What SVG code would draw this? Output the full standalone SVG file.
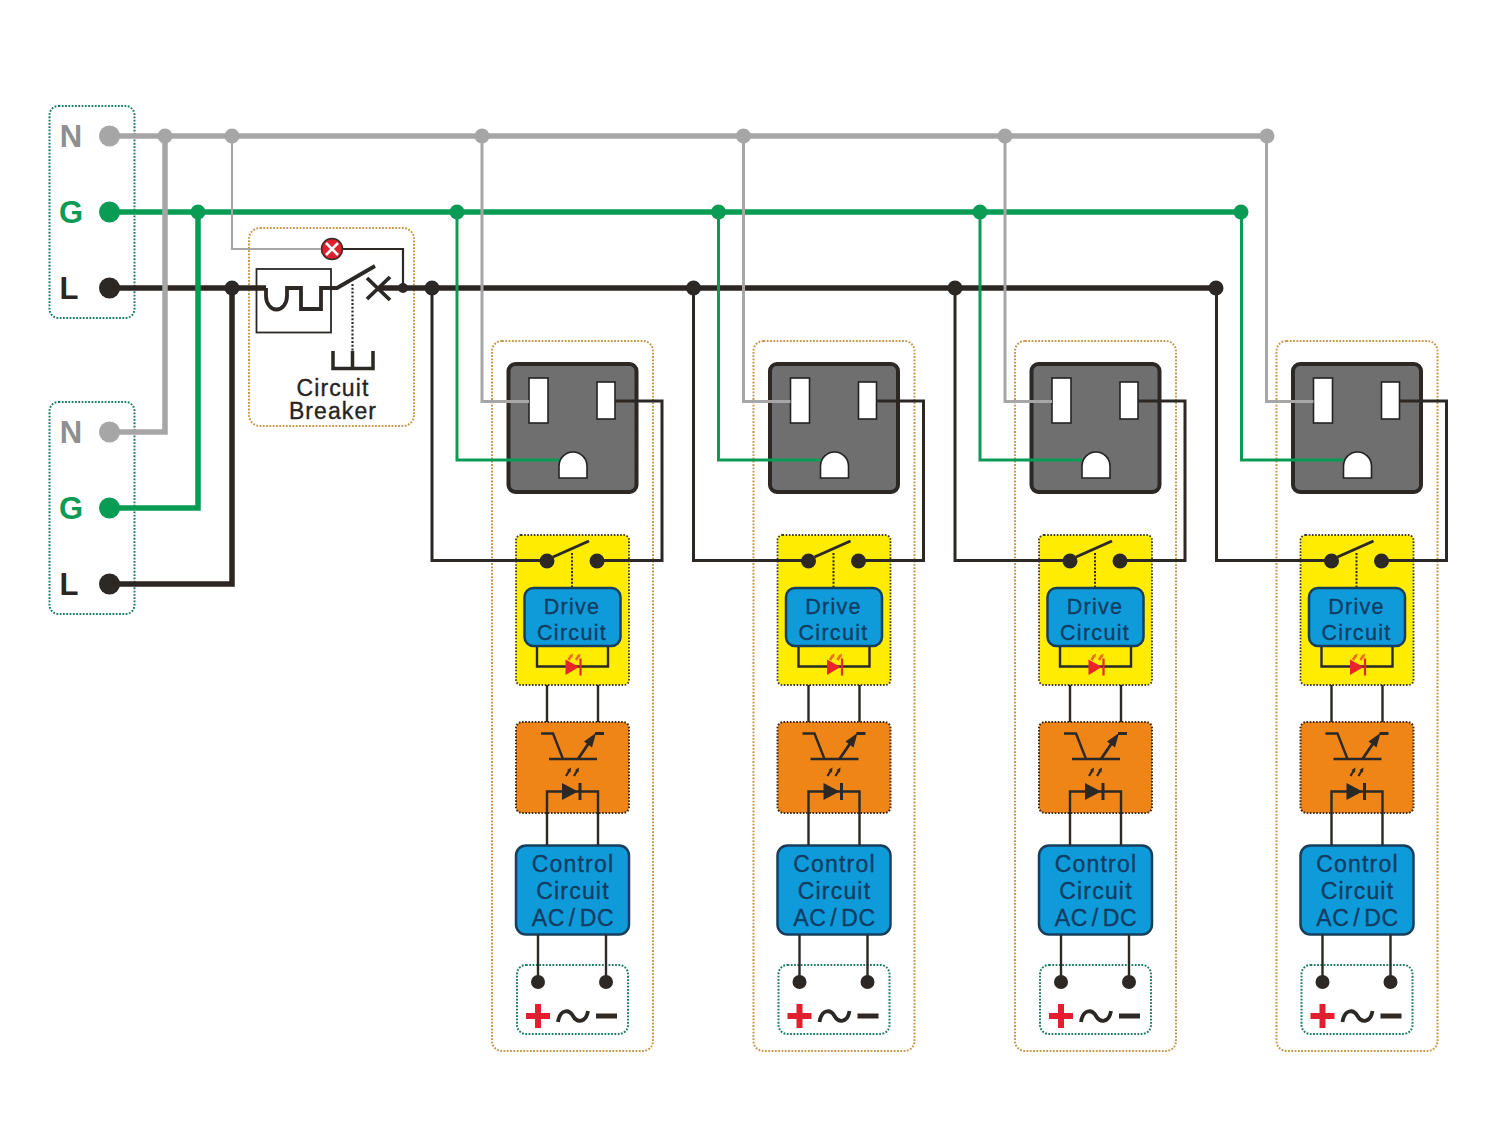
<svg xmlns="http://www.w3.org/2000/svg" width="1500" height="1125" viewBox="0 0 1500 1125">
<style>
text{font-family:"Liberation Sans",Arial,sans-serif;text-anchor:middle}
.term{font-size:31px;font-weight:bold}
.lbl{font-size:23px;letter-spacing:1.2px;fill:#0f3d63;stroke:#0f3d63;stroke-width:.35px}
.drv{font-size:21.5px;letter-spacing:1.3px;fill:#0f3d63;stroke:#0f3d63;stroke-width:.35px}
.ac{word-spacing:-3px;letter-spacing:.6px}
.brk{font-size:23px;letter-spacing:1.1px;fill:#26231f;stroke:#26231f;stroke-width:.35px}
.ofr{fill:none;stroke:#c9964a;stroke-width:2;stroke-dasharray:1.8 1.5}
.gfr{fill:none;stroke:#1d7d68;stroke-width:2;stroke-dasharray:1.8 1.5}
.dk{fill:none;stroke:#2b2826;stroke-width:2.4;stroke-linejoin:miter}
.wk{fill:none;stroke:#2b2826;stroke-width:3}
.wg{fill:none;stroke:#a6a6a6;stroke-width:3}
.wn{fill:none;stroke:#0a9c54;stroke-width:3}
.Wk{fill:none;stroke:#2b2623;stroke-width:5.500}
.Wg{fill:none;stroke:#a6a6a6;stroke-width:5.500}
.Wn{fill:none;stroke:#0a9c54;stroke-width:5.500}
.fk{fill:#2b2826}.fg{fill:#a6a6a6}.fn{fill:#0a9c54}
.blue{fill:#0f9ad9;stroke:#173f5c;stroke-width:2.5}
</style>
<defs>
<g id="outlet-art">
<rect x="508.500" y="364" width="128" height="128" rx="7" fill="#6f6f6f" stroke="#2b2826" stroke-width="4"/>
<rect x="529" y="378" width="19" height="45" fill="#fff" stroke="#222" stroke-width="1.6"/>
<rect x="597" y="382" width="18" height="37" fill="#fff" stroke="#222" stroke-width="1.6"/>
<path d="M559 478V466A14 14 0 0 1 587 466V478Z" fill="#fff" stroke="#222" stroke-width="1.6"/>
</g>
<g id="relay-art">
<rect x="516" y="535" width="113" height="150" rx="5" fill="#ffec00" stroke="#3a3a2a" stroke-width="1.8" stroke-dasharray="1.6 1.6"/>
<circle cx="547" cy="561" r="7.500" class="fk"/><circle cx="597" cy="561" r="7.500" class="fk"/>
<path d="M553 557L589 541" class="wk"/>
<path d="M572 553V587" fill="none" stroke="#2b2826" stroke-width="2" stroke-dasharray="2 1.600"/>
<path d="M537 646V666.500H608V646" class="dk"/>
<path d="M565.500 659.500V675L579 667Z" fill="#e8232a"/>
<path d="M580.500 658.500V675.500" stroke="#e8232a" stroke-width="2.200" fill="none"/>
<path d="M568.500 660L571 656M576 660L578.500 656" stroke="#e8701e" stroke-width="2.600" fill="none"/>
<path d="M573 653.500L569.500 655.500L572.500 657.500ZM580.500 653.500L577 655.500L580 657.500Z" fill="#e8701e"/>
</g>
<g id="opto-art">
<rect x="516" y="722" width="113" height="91" rx="6" fill="#ef8517" stroke="#3a2a1a" stroke-width="2" stroke-dasharray="1.6 1.6"/>
<path d="M541 733.500H553L563 759M549 759H597" class="dk"/>
<path d="M578 759L593 737M595 733.500H604" fill="none" stroke="#2b2826" stroke-width="2.800"/>
<path d="M596 733L592 747.500L584 741.500Z" class="fk"/>
<path d="M566 776L569 771M574 776L577 771" stroke="#2b2826" stroke-width="2.200" fill="none"/>
<path d="M571 767.500L567 770L570.500 772.500ZM579 767.500L575 770L578.500 772.500Z" class="fk"/>
<path d="M562 783V800L578 791.500Z" class="fk"/>
<path d="M580 783V800" stroke="#2b2826" stroke-width="3" fill="none"/>
</g>
<g id="supply-art">
<rect x="517" y="965" width="111" height="69" rx="9" class="gfr"/>
<circle cx="538" cy="982" r="7" class="fk"/><circle cx="606" cy="982" r="7" class="fk"/>
<path d="M538 1004V1028M526 1016H550" stroke="#e0202f" stroke-width="6" fill="none"/>
<path d="M558 1022C560 1009 569 1009 573 1016C577 1023 586 1023 588 1011" stroke="#2b2826" stroke-width="3.800" fill="none"/>
<path d="M596 1016H617" stroke="#2b2826" stroke-width="5" fill="none"/>
</g>
<g id="col-black">
<path d="M432 288V560.500H547M597 560.500H662V401H615" class="wk"/>
<path d="M547 685V722M598 685V722M547 845V791.500H598V845M538 935V982M606 935V982" class="dk"/>
</g>
<g id="col-green"><path d="M457 212V460H559" class="wn"/></g>
<g id="col-gray"><path d="M482 136V401.500H529" class="wg"/></g>
</defs>
<rect width="1500" height="1125" fill="#fff"/>

<g id="source-top">
<rect x="49.500" y="106" width="85" height="212" rx="9" class="gfr"/>
<text x="71" y="147" class="term" fill="#8f8f8f">N</text>
<text x="71" y="223" class="term" fill="#0a9c54">G</text>
<text x="69" y="299" class="term" fill="#2b2623">L</text>
<circle cx="109.500" cy="136" r="10.500" class="fg"/><circle cx="109.500" cy="212" r="10.500" class="fn"/><circle cx="109.500" cy="288" r="10.500" class="fk"/>
</g>
<g id="source-bottom">
<rect x="49.500" y="402" width="85" height="212" rx="9" class="gfr"/>
<text x="71" y="443" class="term" fill="#8f8f8f">N</text>
<text x="71" y="519" class="term" fill="#0a9c54">G</text>
<text x="69" y="595" class="term" fill="#2b2623">L</text>
<circle cx="109.500" cy="432" r="10.500" class="fg"/><circle cx="109.500" cy="508" r="10.500" class="fn"/><circle cx="109.500" cy="584" r="10.500" class="fk"/>
</g>

<g id="circuit-breaker">
<rect x="249" y="228" width="165" height="198" rx="11" class="ofr"/>
<rect x="256.500" y="269" width="74.500" height="63.500" fill="none" stroke="#2b2826" stroke-width="1.800"/>
<path d="M266 288V296A10.500 13.500 0 0 0 287 296V288H301V309H321V288H337L375 266" fill="none" stroke="#2b2826" stroke-width="3.800"/>
<path d="M367 278L390 300M367 299L390 277" fill="none" stroke="#2b2826" stroke-width="3.800"/>
<path d="M352.500 284V351" fill="none" stroke="#2b2826" stroke-width="2.200" stroke-dasharray="2 1.800"/>
<path d="M333 351V368.500H373V351M352.500 351V368.500" fill="none" stroke="#2b2826" stroke-width="3.500"/>
<text x="333" y="396" class="brk">Circuit</text>
<text x="333" y="419" class="brk">Breaker</text>
<circle cx="332" cy="249" r="10.500" fill="#e0202f" stroke="#3a2a2a" stroke-width="1.500"/>
<path d="M326 243L338 255M338 243L326 255" stroke="#fff" stroke-width="2.600" fill="none"/>
</g>

<g id="column-1">
<rect x="492" y="341" width="161" height="710" rx="10" class="ofr"/>
<g id="outlet-1"><use href="#outlet-art"/></g>
<g id="relay-1"><use href="#relay-art"/>
<rect x="524.500" y="588" width="96" height="58" rx="9" class="blue"/>
<text x="572" y="613.500" class="drv">Drive</text><text x="572" y="640" class="drv">Circuit</text></g>
<g id="opto-1"><use href="#opto-art"/></g>
<g id="control-1"><rect x="516" y="845.500" width="113" height="89" rx="10" class="blue"/>
<text x="573" y="871.500" class="lbl">Control</text><text x="573" y="898.500" class="lbl">Circuit</text><text x="573" y="926" class="lbl ac">AC / DC</text></g>
<g id="supply-1"><use href="#supply-art"/></g>
</g>
<g id="column-2" transform="translate(261.500 0)">
<rect x="492" y="341" width="161" height="710" rx="10" class="ofr"/>
<g id="outlet-2"><use href="#outlet-art"/></g>
<g id="relay-2"><use href="#relay-art"/>
<rect x="524.500" y="588" width="96" height="58" rx="9" class="blue"/>
<text x="572" y="613.500" class="drv">Drive</text><text x="572" y="640" class="drv">Circuit</text></g>
<g id="opto-2"><use href="#opto-art"/></g>
<g id="control-2"><rect x="516" y="845.500" width="113" height="89" rx="10" class="blue"/>
<text x="573" y="871.500" class="lbl">Control</text><text x="573" y="898.500" class="lbl">Circuit</text><text x="573" y="926" class="lbl ac">AC / DC</text></g>
<g id="supply-2"><use href="#supply-art"/></g>
</g>
<g id="column-3" transform="translate(523 0)">
<rect x="492" y="341" width="161" height="710" rx="10" class="ofr"/>
<g id="outlet-3"><use href="#outlet-art"/></g>
<g id="relay-3"><use href="#relay-art"/>
<rect x="524.500" y="588" width="96" height="58" rx="9" class="blue"/>
<text x="572" y="613.500" class="drv">Drive</text><text x="572" y="640" class="drv">Circuit</text></g>
<g id="opto-3"><use href="#opto-art"/></g>
<g id="control-3"><rect x="516" y="845.500" width="113" height="89" rx="10" class="blue"/>
<text x="573" y="871.500" class="lbl">Control</text><text x="573" y="898.500" class="lbl">Circuit</text><text x="573" y="926" class="lbl ac">AC / DC</text></g>
<g id="supply-3"><use href="#supply-art"/></g>
</g>
<g id="column-4" transform="translate(784.500 0)">
<rect x="492" y="341" width="161" height="710" rx="10" class="ofr"/>
<g id="outlet-4"><use href="#outlet-art"/></g>
<g id="relay-4"><use href="#relay-art"/>
<rect x="524.500" y="588" width="96" height="58" rx="9" class="blue"/>
<text x="572" y="613.500" class="drv">Drive</text><text x="572" y="640" class="drv">Circuit</text></g>
<g id="opto-4"><use href="#opto-art"/></g>
<g id="control-4"><rect x="516" y="845.500" width="113" height="89" rx="10" class="blue"/>
<text x="573" y="871.500" class="lbl">Control</text><text x="573" y="898.500" class="lbl">Circuit</text><text x="573" y="926" class="lbl ac">AC / DC</text></g>
<g id="supply-4"><use href="#supply-art"/></g>
</g>

<g id="connectors">
<path d="M110 288H266" class="Wk"/>
<path d="M380 288H1216" class="Wk"/>
<path d="M232 288V584H110" class="Wk"/>
<path d="M403 288V249H343" fill="none" stroke="#2b2826" stroke-width="2.200"/>
<use href="#col-black"/><use href="#col-black" transform="translate(261.500 0)"/><use href="#col-black" transform="translate(523 0)"/><use href="#col-black" transform="translate(784.500 0)"/>
<path d="M110 212H1241" class="Wn"/>
<path d="M198 212V508H110" class="Wn"/>
<use href="#col-green"/><use href="#col-green" transform="translate(261.500 0)"/><use href="#col-green" transform="translate(523 0)"/><use href="#col-green" transform="translate(784.500 0)"/>
<path d="M110 136H1267" class="Wg"/>
<path d="M165 136V432H110" class="Wg"/>
<path d="M232 136V249H321" fill="none" stroke="#a6a6a6" stroke-width="2.200"/>
<use href="#col-gray"/><use href="#col-gray" transform="translate(261.500 0)"/><use href="#col-gray" transform="translate(523 0)"/><use href="#col-gray" transform="translate(784.500 0)"/>
<g class="fg"><circle cx="165" cy="136" r="7.500"/><circle cx="232" cy="136" r="7.500"/><circle cx="482" cy="136" r="7.500"/><circle cx="743.500" cy="136" r="7.500"/><circle cx="1005" cy="136" r="7.500"/><circle cx="1267" cy="136" r="7.500"/></g>
<g class="fn"><circle cx="198" cy="212" r="7.500"/><circle cx="457" cy="212" r="7.500"/><circle cx="718.500" cy="212" r="7.500"/><circle cx="980" cy="212" r="7.500"/><circle cx="1241" cy="212" r="7.500"/></g>
<g class="fk"><circle cx="232" cy="288" r="7.500"/><circle cx="403" cy="288" r="5"/><circle cx="432" cy="288" r="7.500"/><circle cx="693.500" cy="288" r="7.500"/><circle cx="955" cy="288" r="7.500"/><circle cx="1216" cy="288" r="7.500"/></g>
</g>
</svg>
